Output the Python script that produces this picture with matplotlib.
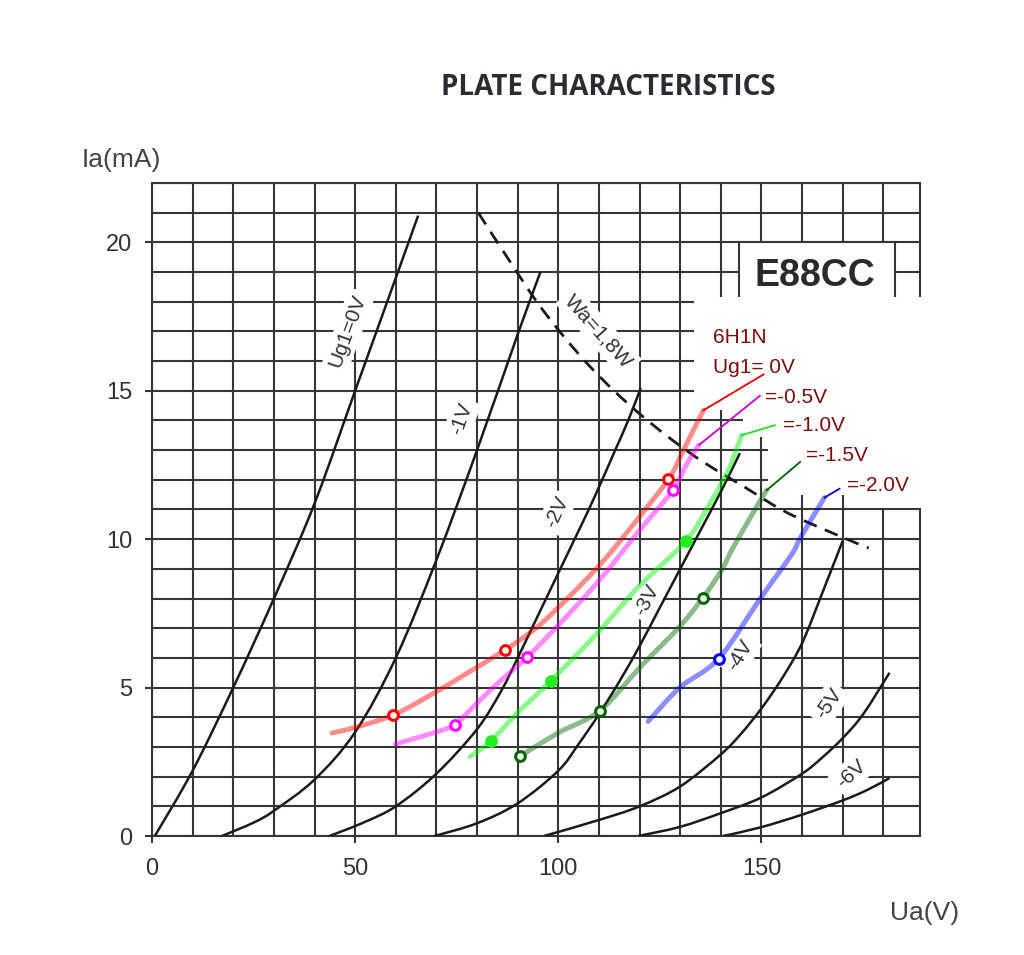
import matplotlib.pyplot as plt
from matplotlib.ticker import MultipleLocator
from matplotlib.patches import Polygon, Rectangle, PathPatch
from matplotlib.path import Path

# E88CC plate curves (Ua in V, Ia in mA)
ua_g0 = [0.7, 10, 20, 30, 40, 50, 60, 65.5]
ia_g0 = [0, 2.2, 5.0, 8.0, 11.2, 15.0, 18.8, 20.9]
ua_g1 = [17.2, 25, 30, 40, 50, 60, 70, 80, 90, 95.6]
ia_g1 = [0, 0.45, 0.85, 1.9, 3.5, 6.0, 9.3, 13.0, 16.9, 19.0]
ua_g2 = [43.7, 52, 60, 70, 80, 86, 90, 93.5, 97, 100.5, 104, 107.5, 110.8, 114, 117.2, 120.3]
ia_g2 = [0, 0.45, 1.0, 2.1, 3.6, 4.9, 6.0, 7.0, 8.0, 9.0, 10.0, 11.0, 12.0, 13.0, 14.0, 15.1]
ua_g3 = [69.5, 80, 90, 100, 105, 110, 115, 120, 125, 130, 135, 140, 144.7]
ia_g3 = [0, 0.43, 1.1, 2.2, 3.1, 4.1, 5.2, 6.4, 7.7, 9.0, 10.3, 11.6, 12.9]
ua_g4 = [96.5, 110, 120, 130, 140, 145, 150, 155, 160, 165, 170]
ia_g4 = [0, 0.54, 1.0, 1.67, 2.75, 3.45, 4.3, 5.3, 6.5, 8.2, 9.95]
ua_g5 = [119.7, 130, 140, 150, 160, 165, 170, 175, 181.5]
ia_g5 = [0, 0.31, 0.77, 1.3, 2.1, 2.65, 3.3, 4.1, 5.5]
ua_g6 = [140.6, 150, 160, 170, 176, 181.5]
ia_g6 = [0, 0.3, 0.72, 1.2, 1.55, 1.95]

# max dissipation line Wa = 1,8 W
ua_wa = [80.3, 87.4, 96.3, 107.9, 120.2, 133.5, 146.5, 156.2, 169.3, 176.4]
ia_wa = [21.0, 19.5, 17.7, 15.8, 14.2, 12.8, 11.7, 10.9, 10.1, 9.7]

# 6H1N measured curves
ua_r = [44.3, 49.5, 59.3, 69.2, 77.5, 86.8, 94, 100, 110, 118.5, 127.1, 130, 132.4, 135.7]
ia_r = [3.47, 3.64, 4.07, 4.8, 5.48, 6.26, 6.95, 7.7, 9.1, 10.5, 12.02, 12.77, 13.44, 14.34]
ua_m = [59.9, 69.2, 74.5, 78, 84.1, 92.4, 100, 110, 120, 128.2, 131.7, 134.6]
ia_m = [3.1, 3.47, 3.74, 4.2, 5.02, 6.04, 7.1, 8.6, 10.3, 11.65, 12.56, 13.17]
ua_lg = [78.3, 83.4, 89.8, 98.2, 109.5, 119.7, 131.4, 137.3, 141.4, 143.5, 145.1]
ia_lg = [2.67, 3.2, 4.13, 5.23, 6.82, 8.39, 9.94, 11.2, 12.2, 12.9, 13.5]
ua_dg = [90.6, 99.9, 110.2, 120.5, 129.9, 135.6, 140.2, 143.1, 149.7, 151.3]
ia_dg = [2.69, 3.47, 4.22, 5.74, 7.06, 8.03, 8.96, 9.74, 11.3, 11.65]
ua_b = [122.1, 129.9, 139.5, 149.7, 157.5, 159.5, 165.5]
ia_b = [3.86, 5.0, 5.98, 8.0, 9.5, 10.03, 11.4]

# work points (markers)
mk_r = ([59.3, 86.8, 127.1], [4.07, 6.26, 12.02])
mk_m = ([74.5, 92.4, 128.2], [3.74, 6.04, 11.65])
mk_lg = ([83.4, 98.2, 131.4], [3.2, 5.23, 9.94])
mk_dg = ([90.6, 110.2, 135.6], [2.69, 4.22, 8.03])
mk_b = ([139.5], [5.98])

# leader lines to legend text
tail_r = ([135.7, 150.5], [14.34, 15.55])
tail_m = ([134.6, 149.6], [13.17, 14.83])
tail_lg = ([145.1, 153.3], [13.5, 13.84])
tail_dg = ([151.3, 159.5], [11.65, 12.6])
tail_b = ([165.5, 169.2], [11.4, 11.7])

legend_txt = ["6H1N", "Ug1= 0V", "=-0.5V", "=-1.0V", "=-1.5V", "=-2.0V"]
legend_pos = [(138.1, 16.8), (138.1, 15.79), (150.9, 14.78), (155.3, 13.84),
              (161.0, 12.83), (171.1, 11.82)]

curve_lbl = ["Ug1=0V", "-1V", "-2V", "-3V", "-4V", "-5V", "-6V", "Wa=1,8W"]
curve_lbl_pos = [(48.2, 17.0), (76.2, 14.05), (99.6, 10.9), (121.8, 7.95),
                 (144.7, 6.1), (166.5, 4.45), (172.2, 2.1), (109.9, 17.0)]
curve_lbl_rot = [70, 70, 65, 62, 58, 55, 42, -48]

plt.rcParams['font.family'] = ['Liberation Sans', 'DejaVu Sans']
gridc = '#363636'


def smooth(ax, u, i, **kw):
    # Catmull-Rom curve through the read points, drawn as a bezier path
    p = list(zip(u, i))
    verts = [p[0]]
    codes = [Path.MOVETO]
    for k in range(len(p) - 1):
        a = p[k - 1] if k > 0 else p[k]
        b, c = p[k], p[k + 1]
        d = p[k + 2] if k + 2 < len(p) else p[k + 1]
        c1 = (b[0] + (c[0] - a[0]) / 6, b[1] + (c[1] - a[1]) / 6)
        c2 = (c[0] - (d[0] - b[0]) / 6, c[1] - (d[1] - b[1]) / 6)
        verts += [c1, c2, c]
        codes += [Path.CURVE4] * 3
    ax.add_patch(PathPatch(Path(verts, codes), fill=False, **kw))


fig = plt.figure(figsize=(10.24, 9.55), dpi=100)
ax = fig.add_axes([0.1484, 0.1246, 0.75, 0.6838])
ax.set_xlim(0, 189)
ax.set_ylim(0, 22)
ax.set_xticks([0, 50, 100, 150])
ax.set_yticks([0, 5, 10, 15, 20])
ax.xaxis.set_minor_locator(MultipleLocator(10))
ax.yaxis.set_minor_locator(MultipleLocator(1))
ax.grid(which='both', color=gridc, lw=1.5, zorder=1)
ax.set_axisbelow(True)
for s in ax.spines.values():
    s.set_color(gridc)
    s.set_linewidth(1.5)
ax.tick_params(which='major', length=5, width=1.5, color=gridc,
               labelsize=17, labelcolor='#333333')
ax.tick_params(axis='x', which='major', pad=11)
ax.tick_params(axis='y', which='major', pad=9)
ax.tick_params(which='minor', length=0)

# white areas pasted over the grid
ax.add_patch(Rectangle((144.5, 18.1), 38.4, 1.9, fc='white', ec=gridc, lw=1.5,
                       zorder=2.55, clip_on=False))
patch = Polygon([(133.4, 18.15), (192.7, 18.15), (192.7, 11.06), (170.6, 11.06),
                 (170.6, 11.48), (151.6, 11.48), (151.6, 13.43), (145.5, 13.43),
                 (145.5, 14.34), (138.8, 14.34), (138.8, 14.85), (133.4, 14.85)],
                closed=True, fc='white', ec='none', zorder=2.6, clip_on=False)
ax.add_patch(patch)
ax.text(163.2, 18.85, "E88CC", fontsize=27, fontweight='bold', color='#2a2a2a',
        ha='center', va='center', zorder=2.8)

# E88CC curves
for u, i in [(ua_g0, ia_g0), (ua_g1, ia_g1), (ua_g2, ia_g2), (ua_g3, ia_g3),
             (ua_g4, ia_g4), (ua_g5, ia_g5), (ua_g6, ia_g6)]:
    smooth(ax, u, i, ec='#1a1a1a', lw=1.8, zorder=3, capstyle='butt')
smooth(ax, ua_wa, ia_wa, ec='#1a1a1a', lw=2.0, ls=(0, (5, 3.2)), zorder=3)

for t, (x, y), r in zip(curve_lbl, curve_lbl_pos, curve_lbl_rot):
    ax.text(x, y, t, fontsize=15, color='#333333', rotation=r, ha='center',
            va='center', rotation_mode='anchor', zorder=2.8,
            bbox=dict(fc='white', ec='none', pad=3))

# 6H1N curves
series = [(ua_r, ia_r, 'red', mk_r, '#ff0000', 'white', tail_r, '#e00000'),
          (ua_m, ia_m, 'magenta', mk_m, '#ff00ff', 'white', tail_m, '#cc00cc'),
          (ua_lg, ia_lg, '#00ee00', mk_lg, '#22ee22', '#22ee22', tail_lg, '#22dd22'),
          (ua_dg, ia_dg, '#006600', mk_dg, '#006400', 'white', tail_dg, '#006400'),
          (ua_b, ia_b, '#0000ff', mk_b, '#0000ff', 'white', tail_b, '#0000cc')]
for u, i, c, mk, mc, mf, tail, tc in series:
    smooth(ax, u, i, ec=c, lw=3.6, alpha=0.45, zorder=4, capstyle='round')
    ax.plot(tail[0], tail[1], color=tc, lw=1.3, zorder=4)
    ax.plot(mk[0], mk[1], ls='none', marker='o', ms=7, mew=2.2, mec=mc,
            mfc=mf, zorder=5)

for t, (x, y) in zip(legend_txt, legend_pos):
    ax.text(x, y, t, fontsize=15, color='#7b0d0d', ha='left', va='center',
            zorder=5)

fig.text(0.594, 0.908, "PLATE CHARACTERISTICS", fontsize=20, fontweight='bold',
         family=['Open Sans', 'DejaVu Sans'], color='#2b2b33', ha='center', va='center')
fig.text(0.118, 0.832, "Ia(mA)", fontsize=19, color='#444444', ha='center', va='center')
fig.text(0.903, 0.044, "Ua(V)", fontsize=19, color='#444444', ha='center', va='center')

fig.savefig('out.png', dpi=100, facecolor='white')
